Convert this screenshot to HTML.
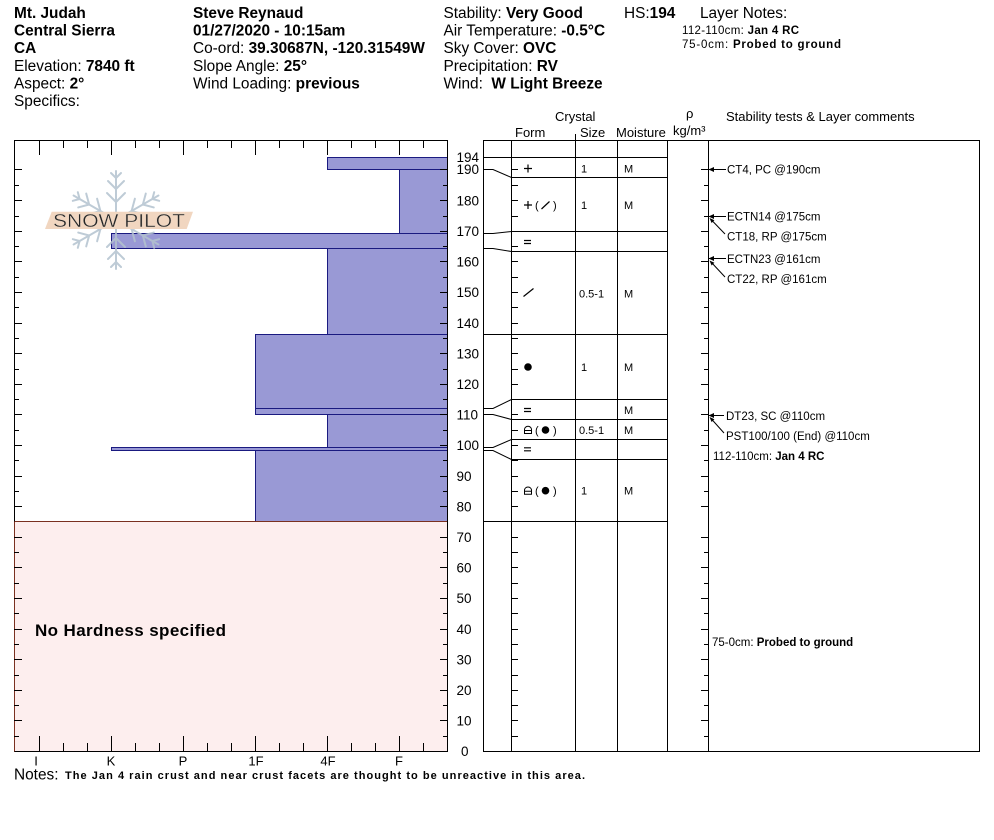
<!DOCTYPE html>
<html><head><meta charset="utf-8"><style>
html,body{margin:0;padding:0;background:#fff;}
svg{display:block;}
text{font-family:"Liberation Sans",Arial,sans-serif;fill:#000;}
.b{font-weight:bold;}
</style></head><body>
<svg width="994" height="840" viewBox="0 0 994 840" xmlns="http://www.w3.org/2000/svg">
<rect width="994" height="840" fill="#fff"/>

<!-- Header col 1 -->
<g font-size="15.4">
<text x="14" y="18" class="b">Mt. Judah</text>
<text x="14" y="35.6" class="b">Central Sierra</text>
<text x="14" y="53.2" class="b">CA</text>
<text x="14" y="70.8">Elevation: <tspan class="b">7840 ft</tspan></text>
<text x="14" y="88.4">Aspect: <tspan class="b">2°</tspan></text>
<text x="14" y="106">Specifics:</text>
<!-- col 2 -->
<text x="193" y="18" class="b">Steve Reynaud</text>
<text x="193" y="35.6" class="b">01/27/2020 - 10:15am</text>
<text x="193" y="53.2">Co-ord: <tspan class="b">39.30687N, -120.31549W</tspan></text>
<text x="193" y="70.8">Slope Angle: <tspan class="b">25°</tspan></text>
<text x="193" y="88.4">Wind Loading: <tspan class="b">previous</tspan></text>
<!-- col 3 -->
<text x="443.5" y="18">Stability: <tspan class="b">Very Good</tspan></text>
<text x="443.5" y="35.6">Air Temperature: <tspan class="b">-0.5°C</tspan></text>
<text x="443.5" y="53.2">Sky Cover: <tspan class="b">OVC</tspan></text>
<text x="443.5" y="70.8">Precipitation: <tspan class="b">RV</tspan></text>
<text x="443.5" y="88.4">Wind:&#160; <tspan class="b">W Light Breeze</tspan></text>
<text x="624" y="18">HS:<tspan class="b">194</tspan></text>
<text x="700" y="18">Layer Notes:</text>
</g>
<g font-size="11.5">
<text x="682" y="34" textLength="117">112-110cm: <tspan class="b">Jan 4 RC</tspan></text>
<text x="682" y="48" textLength="159">75-0cm: <tspan class="b">Probed to ground</tspan></text>
</g>

<!-- chart headers -->
<g font-size="13">
<text x="555" y="121">Crystal</text>
<text x="515" y="137">Form</text>
<text x="580" y="137">Size</text>
<text x="616" y="137">Moisture</text>
<text x="686" y="118">ρ</text>
<text x="673" y="135">kg/m³</text>
<text x="726" y="121">Stability tests &amp; Layer comments</text>
</g>

<!-- ===== Left hardness chart ===== -->
<g stroke="#1a1a80" stroke-width="1" fill="#9999d5">
<rect x="327.5" y="157.5" width="120" height="12"/>
<rect x="399.5" y="169.5" width="48" height="64"/>
<rect x="111.5" y="233.5" width="336" height="15"/>
<rect x="327.5" y="248.5" width="120" height="86"/>
<rect x="255.5" y="334.5" width="192" height="74"/>
<rect x="255.5" y="408.5" width="192" height="6"/>
<rect x="327.5" y="414.5" width="120" height="33"/>
<rect x="111.5" y="447.5" width="336" height="3"/>
<rect x="255.5" y="450.5" width="192" height="71"/>
</g>
<rect x="14.5" y="521.5" width="433" height="230" fill="#fdeeee" stroke="#7a3020" stroke-width="1"/>
<text x="35" y="636" font-size="17" class="b" textLength="191">No Hardness specified</text>

<!-- frame -->
<rect x="14.5" y="140.5" width="433" height="611" fill="none" stroke="#000" stroke-width="1"/>
<line x1="14.5" y1="521.5" x2="14.5" y2="751.5" stroke="#7a3020"/>

<!-- ticks left chart -->
<g stroke="#000" stroke-width="1" fill="none">
<path d="M14 720.5h8M14 690.5h8M14 659.5h8M14 629.5h8M14 598.5h8M14 567.5h8M14 537.5h8M14 506.5h8M14 476.5h8M14 445.5h8M14 414.5h8M14 384.5h8M14 353.5h8M14 323.5h8M14 292.5h8M14 261.5h8M14 231.5h8M14 200.5h8M14 169.5h8"/>
<path d="M14 736.5h5M14 705.5h5M14 675.5h5M14 644.5h5M14 613.5h5M14 583.5h5M14 552.5h5M14 491.5h5M14 460.5h5M14 430.5h5M14 399.5h5M14 369.5h5M14 338.5h5M14 307.5h5M14 277.5h5M14 246.5h5M14 216.5h5M14 185.5h5"/>
<path d="M447 720.5h-7M447 690.5h-7M447 659.5h-7M447 629.5h-7M447 598.5h-7M447 567.5h-7M447 537.5h-7M447 506.5h-7M447 476.5h-7M447 445.5h-7M447 414.5h-7M447 384.5h-7M447 353.5h-7M447 323.5h-7M447 292.5h-7M447 261.5h-7M447 231.5h-7M447 200.5h-7M447 169.5h-7"/>
<path d="M447 736.5h-4M447 705.5h-4M447 675.5h-4M447 644.5h-4M447 613.5h-4M447 583.5h-4M447 552.5h-4M447 491.5h-4M447 460.5h-4M447 430.5h-4M447 399.5h-4M447 369.5h-4M447 338.5h-4M447 307.5h-4M447 277.5h-4M447 246.5h-4M447 216.5h-4M447 185.5h-4"/>
<path d="M39.5 140v15M111.5 140v15M183.5 140v15M255.5 140v15M327.5 140v15M399.5 140v15"/>
<path d="M63.5 140v8M87.5 140v8M135.5 140v8M159.5 140v8M207.5 140v8M231.5 140v8M279.5 140v8M303.5 140v8M351.5 140v8M375.5 140v8M423.5 140v8"/>
<path d="M39.5 751v-15M111.5 751v-15M183.5 751v-15M255.5 751v-15M327.5 751v-15M399.5 751v-15"/>
<path d="M63.5 751v-8M87.5 751v-8M135.5 751v-8M159.5 751v-8M207.5 751v-8M231.5 751v-8M279.5 751v-8M303.5 751v-8M351.5 751v-8M375.5 751v-8M423.5 751v-8"/>
</g>

<!-- logo -->
<g opacity="0.85">
<g stroke="#b3c3cf" stroke-width="2" fill="none" stroke-linecap="round">
<g id="arm">
<path d="M116 220V171"/>
<path d="M116 202l-9-9M116 202l9-9M116 189l-8-8M116 189l8-8M116 178l-5-5M116 178l5-5"/>
</g>
<use href="#arm" transform="rotate(60 116 220)"/>
<use href="#arm" transform="rotate(120 116 220)"/>
<use href="#arm" transform="rotate(180 116 220)"/>
<use href="#arm" transform="rotate(240 116 220)"/>
<use href="#arm" transform="rotate(300 116 220)"/>
</g>
<polygon points="51.7,211.7 193,211.7 186.7,229 45,229" fill="#efd0b6"/>
<text x="53" y="227" font-size="18" fill="#ffffff" stroke="#e2cdbb" stroke-width="0.4" textLength="132" lengthAdjust="spacingAndGlyphs">SNOW PILOT</text>
</g>

<!-- bottom labels -->
<g font-size="13" text-anchor="middle">
<text x="36" y="765.5">I</text>
<text x="111" y="765.5">K</text>
<text x="183" y="765.5">P</text>
<text x="256" y="765.5">1F</text>
<text x="328" y="765.5">4F</text>
<text x="399" y="765.5">F</text>
</g>
<text x="14" y="779.5" font-size="15.4">Notes:</text>
<text x="65" y="779" font-size="11" class="b" textLength="520">The Jan 4 rain crust and near crust facets are thought to be unreactive in this area.</text>

<!-- height axis labels -->
<g font-size="13.5">
<text x="456.5" y="162">194</text>
<text x="456.5" y="173.8">190</text>
<text x="456.5" y="205.3">180</text>
<text x="456.5" y="236">170</text>
<text x="456.5" y="266.5">160</text>
<text x="456.5" y="297.2">150</text>
<text x="456.5" y="327.8">140</text>
<text x="456.5" y="358.4">130</text>
<text x="456.5" y="389">120</text>
<text x="456.5" y="419.6">110</text>
<text x="456.5" y="450.2">100</text>
<text x="456.5" y="480.8">90</text>
<text x="456.5" y="511.4">80</text>
<text x="456.5" y="542">70</text>
<text x="456.5" y="572.6">60</text>
<text x="456.5" y="603.2">50</text>
<text x="456.5" y="633.8">40</text>
<text x="456.5" y="664.4">30</text>
<text x="456.5" y="695">20</text>
<text x="456.5" y="725.6">10</text>
<text x="461" y="756.2">0</text>
</g>

<!-- ===== Right panel ===== -->
<g stroke="#000" stroke-width="1" fill="none">
<rect x="483.5" y="140.5" width="496" height="611"/>
<path d="M511.5 140.5V751.5M575.5 134V751.5M617.5 140.5V751.5M667.5 140.5V751.5M708.5 140.5V751.5"/>
<path d="M483.5 157.5H667.5M483.5 334.5H667.5M483.5 521.5H667.5"/>
<path d="M511.5 177.5H667.5M511.5 231.5H667.5M511.5 251.5H667.5M511.5 399.5H667.5M511.5 419.5H667.5M511.5 439.5H667.5M511.5 459.5H667.5"/>
<!-- connectors -->
<path d="M483.5 169.5H493L511.5 177.5"/>
<path d="M483.5 233.5H493L511.5 231.5"/>
<path d="M483.5 248.5H493L511.5 251.5"/>
<path d="M483.5 408.5H493L511.5 399.5"/>
<path d="M483.5 414.5H493L511.5 419.5"/>
<path d="M483.5 447.5H493L511.5 439.5"/>
<path d="M483.5 450.5H493L511.5 459.5"/>
<!-- ticks at 511 -->
<path d="M511 720.5h7M511 690.5h7M511 659.5h7M511 629.5h7M511 598.5h7M511 567.5h7M511 537.5h7M511 506.5h7M511 476.5h7M511 445.5h7M511 414.5h7M511 384.5h7M511 353.5h7M511 323.5h7M511 292.5h7M511 261.5h7M511 231.5h7M511 200.5h7M511 169.5h7"/>
<path d="M511 736.5h7M511 705.5h7M511 675.5h7M511 644.5h7M511 613.5h7M511 583.5h7M511 552.5h7M511 491.5h7M511 460.5h7M511 430.5h7M511 399.5h7M511 369.5h7M511 338.5h7M511 307.5h7M511 277.5h7M511 246.5h7M511 216.5h7M511 185.5h7"/>
<!-- ticks at 708 -->
<path d="M708 720.5h-7M708 690.5h-7M708 659.5h-7M708 629.5h-7M708 598.5h-7M708 567.5h-7M708 537.5h-7M708 506.5h-7M708 476.5h-7M708 445.5h-7M708 414.5h-7M708 384.5h-7M708 353.5h-7M708 323.5h-7M708 292.5h-7M708 261.5h-7M708 231.5h-7M708 200.5h-7M708 169.5h-7"/>
<path d="M708 736.5h-4M708 705.5h-4M708 675.5h-4M708 644.5h-4M708 613.5h-4M708 583.5h-4M708 552.5h-4M708 491.5h-4M708 460.5h-4M708 430.5h-4M708 399.5h-4M708 369.5h-4M708 338.5h-4M708 307.5h-4M708 277.5h-4M708 246.5h-4M708 216.5h-4M708 185.5h-4"/>
</g>

<!-- crystal symbols -->
<g stroke="#000" stroke-width="1.2" fill="none">
<path d="M524 168.5h8M528 164.5v8"/>
<path d="M524 205h8M528 201v8"/>
<path d="M541.5 209L549.5 201.5"/>
<path d="M524 240.5h7M524 243.5h7"/>
<path d="M523.5 296.5L533.5 288.5"/>
<path d="M524 408.5h7M524 411.5h7"/>
<path d="M524 447.8h7M524 450.8h7"/>
<path d="M524.5 433.5V429.5A3.5 3.2 0 0 1 531.5 429.5V433.5Z M524.5 430.5H531.5" stroke-width="1"/>
<path d="M524.5 494.2V490.2A3.5 3.2 0 0 1 531.5 490.2V494.2Z M524.5 491.2H531.5" stroke-width="1"/>
</g>
<g fill="#000">
<circle cx="528" cy="367" r="3.8"/>
<circle cx="545.5" cy="430" r="3.8"/>
<circle cx="545.5" cy="490.7" r="3.8"/>
</g>
<g font-size="11">
<text x="535" y="209">(</text><text x="553" y="209">)</text>
<text x="535" y="434">(</text><text x="553" y="434">)</text>
<text x="535" y="494.7">(</text><text x="553" y="494.7">)</text>
<text x="581" y="172.5">1</text><text x="624" y="172.5">M</text>
<text x="581" y="209">1</text><text x="624" y="209">M</text>
<text x="579" y="297.3">0.5-1</text><text x="624" y="297.3">M</text>
<text x="581" y="371">1</text><text x="624" y="371">M</text>
<text x="624" y="414">M</text>
<text x="579" y="434">0.5-1</text><text x="624" y="434">M</text>
<text x="581" y="494.7">1</text><text x="624" y="494.7">M</text>
</g>

<!-- comments arrows -->
<g stroke="#000" stroke-width="1" fill="none">
<path d="M709 169.5H726M709 216.5H726M709 258.5H726M709 415.5H724"/>
<path d="M711 219.5L725 234M711 262L725 277M711 418.5L724 433"/>
</g>
<g fill="#000">
<polygon points="708.5,169.5 714,167 714,172"/>
<polygon points="708.5,216.5 714,214 714,219"/>
<polygon points="708.5,258.5 714,256 714,261"/>
<polygon points="708.5,415.5 714,413 714,418"/>
<polygon points="709.5,218 714.4,220.2 711.6,223"/>
<polygon points="709.5,260.5 714.4,262.7 711.6,265.5"/>
<polygon points="709.5,417 714.4,419.2 711.6,422"/>
</g>
<g font-size="11.5">
<text x="727" y="173.5">CT4, PC @190cm</text>
<text x="727" y="220.3">ECTN14 @175cm</text>
<text x="727" y="240.3">CT18, RP @175cm</text>
<text x="727" y="262.8">ECTN23 @161cm</text>
<text x="727" y="282.8">CT22, RP @161cm</text>
<text x="726" y="419.8">DT23, SC @110cm</text>
<text x="726" y="439.8">PST100/100 (End) @110cm</text>
<text x="713" y="459.8">112-110cm: <tspan class="b">Jan 4 RC</tspan></text>
<text x="712" y="646">75-0cm: <tspan class="b">Probed to ground</tspan></text>
</g>
</svg>
</body></html>
